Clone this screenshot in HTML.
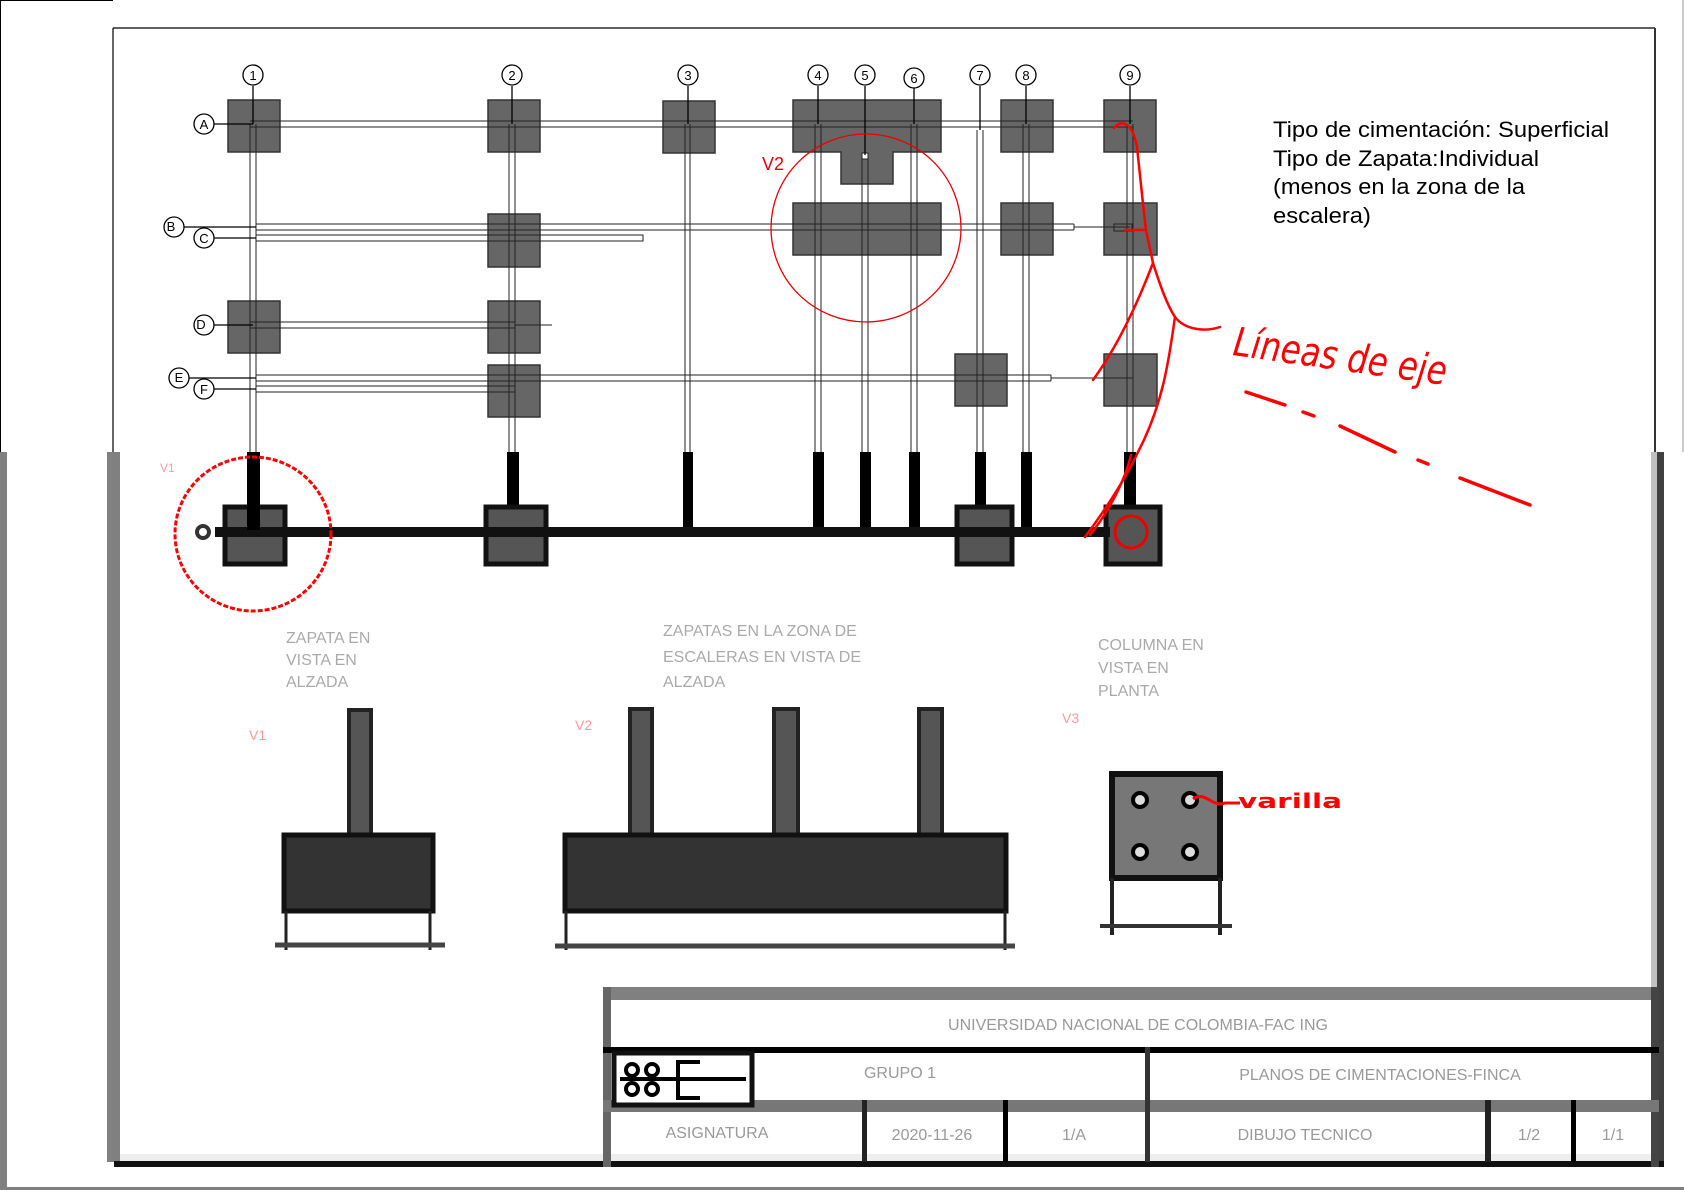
<!DOCTYPE html>
<html><head><meta charset="utf-8"><style>
html,body{margin:0;padding:0;background:#fff;}
svg{display:block;}
</style></head><body>
<svg width="1684" height="1190" viewBox="0 0 1684 1190" xmlns="http://www.w3.org/2000/svg" font-family="Liberation Sans, sans-serif">
<rect width="1684" height="1190" fill="#fff"/>
<line x1="0" y1="0.5" x2="113" y2="0.5" stroke="#000" stroke-width="1"/>
<line x1="0.5" y1="0" x2="0.5" y2="452" stroke="#000" stroke-width="1"/>
<line x1="1683" y1="0" x2="1683" y2="452" stroke="#999" stroke-width="1"/>
<line x1="113" y1="28" x2="1655" y2="28" stroke="#000" stroke-width="1.2"/>
<line x1="113" y1="28" x2="113" y2="452" stroke="#000" stroke-width="1.2"/>
<line x1="1655" y1="28" x2="1655" y2="452" stroke="#333" stroke-width="2"/>
<rect x="0" y="452" width="7" height="738" fill="#808080"/>
<rect x="107" y="452" width="13" height="710" fill="#808080"/>
<rect x="7" y="1187" width="1677" height="3" fill="#808080"/>
<rect x="1651" y="452" width="6" height="715" fill="#c0c0c0"/>
<rect x="1657" y="452" width="7" height="715" fill="#404040"/>
<rect x="120" y="1154" width="1531" height="7" fill="#eee"/>
<rect x="114" y="1161" width="1550" height="6" fill="#111"/>

<g fill="#666" stroke="#333" stroke-width="1.5">
<rect x="228" y="100" width="52" height="52"/>
<rect x="488" y="100" width="52" height="52"/>
<rect x="663" y="101" width="52" height="52"/>
<path d="M793 100 H941 V152 H893 V184 H841 V152 H793 Z"/>
<rect x="1001" y="100" width="52" height="52"/>
<rect x="1104" y="100" width="52" height="52"/>
<rect x="488" y="214" width="52" height="53"/>
<rect x="793" y="203" width="148" height="52"/>
<rect x="1001" y="203" width="52" height="52"/>
<rect x="1104" y="203" width="53" height="52"/>
<rect x="228" y="301" width="52" height="52"/>
<rect x="488" y="301" width="52" height="52"/>
<rect x="488" y="365" width="52" height="52"/>
<rect x="955" y="354" width="52" height="52"/>
<rect x="1104" y="354" width="53" height="52"/>
</g>
<g stroke="#222" stroke-width="1" fill="none">
<path d="M250 124 V452 M256 124 V452"/>
<path d="M509 124 V452 M515 124 V452"/>
<path d="M685 124 V452 M690 124 V452"/>
<path d="M815 124 V452 M821 124 V452"/>
<path d="M862 155 V452 M868 155 V452"/>
<path d="M911 124 V452 M917 124 V452"/>
<path d="M977 130 V452 M983 130 V452"/>
<path d="M1023 124 V452 M1029 124 V452"/>
<path d="M1127 124 V452 M1133 124 V452"/>
<path d="M250 121 H1133 M250 127 H1133"/>
<path d="M256 224 H1074 M256 230 H1074 M1074 224 V230 M1074 227 H1130"/>
<path d="M256 235 H643 V241 H256"/>
<path d="M250 322 H515 V328 H250 M515 325 H552"/>
<path d="M256 375 H1051 M256 381 H1051 M1051 375 V381 M1051 378 H1133"/>
<path d="M256 386 H515 V392 H256"/>
</g>
<rect x="862" y="153" width="6" height="6" fill="#fff" stroke="#222"/>
<rect x="1114" y="224" width="18" height="7" fill="none" stroke="#222"/>
<g stroke="#000" stroke-width="1.3" fill="#fff">
<line x1="253" y1="86" x2="253" y2="124"/><line x1="512" y1="86" x2="512" y2="124"/><line x1="688" y1="86" x2="688" y2="124"/>
<line x1="818" y1="86" x2="818" y2="124"/><line x1="865" y1="86" x2="865" y2="155"/><line x1="914" y1="88" x2="914" y2="124"/>
<line x1="980" y1="86" x2="980" y2="130"/><line x1="1026" y1="86" x2="1026" y2="124"/><line x1="1130" y1="86" x2="1130" y2="124"/>
<line x1="214" y1="124" x2="253" y2="124"/><line x1="184" y1="227" x2="256" y2="227"/><line x1="214" y1="238" x2="256" y2="238"/>
<line x1="214" y1="325" x2="253" y2="325"/><line x1="189" y1="378" x2="256" y2="378"/><line x1="214" y1="389" x2="256" y2="389"/>
<circle cx="253" cy="75" r="10"/><circle cx="512" cy="75" r="10"/><circle cx="688" cy="75" r="10"/>
<circle cx="818" cy="75" r="10"/><circle cx="865" cy="75" r="10"/><circle cx="914" cy="78" r="10"/>
<circle cx="980" cy="75" r="10"/><circle cx="1026" cy="75" r="10"/><circle cx="1130" cy="75" r="10"/>
<circle cx="204" cy="124" r="10"/><circle cx="174" cy="227" r="10"/><circle cx="204" cy="238" r="10"/>
<circle cx="204" cy="325" r="10"/><circle cx="179" cy="378" r="10"/><circle cx="204" cy="389" r="10"/>
</g>
<g font-size="13" text-anchor="middle" fill="#000">
<text x="253" y="80">1</text><text x="512" y="80">2</text><text x="688" y="80">3</text><text x="818" y="80">4</text><text x="865" y="80">5</text><text x="914" y="83">6</text><text x="980" y="80">7</text><text x="1026" y="80">8</text><text x="1130" y="80">9</text>
<text x="204" y="129">A</text><text x="171" y="231">B</text><text x="204" y="243">C</text><text x="201" y="329">D</text><text x="179" y="382">E</text><text x="204" y="394">F</text>
</g>
<ellipse cx="866" cy="228" rx="95" ry="94" fill="none" stroke="#e00" stroke-width="1.3"/>
<text x="762" y="170" font-size="18" fill="#e00">V2</text>
<g font-size="22" fill="#000">
<text x="1273" y="137" textLength="336" lengthAdjust="spacingAndGlyphs">Tipo de cimentación: Superficial</text>
<text x="1273" y="166" textLength="266" lengthAdjust="spacingAndGlyphs">Tipo de Zapata:Individual</text>
<text x="1273" y="194" textLength="252" lengthAdjust="spacingAndGlyphs">(menos en la zona de la</text>
<text x="1273" y="223" textLength="98" lengthAdjust="spacingAndGlyphs">escalera)</text>
</g>

<g fill="#000">
<rect x="247" y="452" width="13" height="80"/><rect x="507" y="452" width="12" height="80"/><rect x="683" y="452" width="10" height="80"/>
<rect x="813" y="452" width="11" height="80"/><rect x="860" y="452" width="11" height="80"/><rect x="909" y="452" width="11" height="80"/>
<rect x="975" y="452" width="11" height="80"/><rect x="1021" y="452" width="11" height="80"/><rect x="1124" y="452" width="12" height="80"/>
</g>
<g fill="#555" stroke="#111" stroke-width="5">
<rect x="225" y="507" width="60" height="57"/><rect x="486" y="507" width="60" height="57"/>
<rect x="957" y="507" width="55" height="57"/><rect x="1106" y="507" width="54" height="57"/>
</g>
<rect x="215" y="527" width="895" height="10" fill="#111"/>
<rect x="247" y="470" width="13" height="60" fill="#000"/>
<circle cx="203" cy="532" r="6" fill="none" stroke="#333" stroke-width="4"/>
<ellipse cx="253" cy="534" rx="78" ry="77" fill="none" stroke="#f00" stroke-width="3" stroke-dasharray="5 2"/>
<text x="160" y="472" font-size="12" fill="#f99">V1</text>
<circle cx="1131" cy="532" r="16" fill="none" stroke="#e00" stroke-width="3"/>

<g fill="none" stroke="#f00" stroke-width="2.5" stroke-linecap="round">
<path d="M1114 128 C1120 120 1132 120 1137 147 C1140 175 1143 205 1146 230 L1153 263"/>
<path d="M1125 230 H1146"/>
<path d="M1153 263 C1135 310 1115 350 1093 380"/>
<path d="M1153 263 C1160 285 1167 305 1175 317 C1185 330 1205 332 1220 327"/>
<path d="M1175 317 C1170 350 1165 400 1139 450 C1125 480 1105 510 1085 537"/>
<path d="M1131 455 C1125 480 1110 510 1090 535"/>
<path d="M1246 392 L1285 405 M1303 412 L1314 416 M1340 426 L1395 452 M1418 460 L1428 464 M1460 478 L1530 505" stroke-width="3.5"/>
</g>
<text x="1232" y="355" font-size="40" fill="#f00" font-family="DejaVu Sans, sans-serif" font-style="italic" transform="rotate(8 1232 355)" textLength="215" lengthAdjust="spacingAndGlyphs">Líneas de eje</text>

<g font-size="16" fill="#aaa">
<text x="286" y="643">ZAPATA EN</text><text x="286" y="665">VISTA EN</text><text x="286" y="687">ALZADA</text>
<text x="663" y="636">ZAPATAS EN LA ZONA DE</text><text x="663" y="662">ESCALERAS EN VISTA DE</text><text x="663" y="687">ALZADA</text>
<text x="1098" y="650">COLUMNA EN</text><text x="1098" y="673">VISTA EN</text><text x="1098" y="696">PLANTA</text>
</g>
<g font-size="14" fill="#f99"><text x="249" y="740">V1</text><text x="575" y="730">V2</text><text x="1062" y="723">V3</text></g>

<rect x="349" y="710" width="22" height="126" fill="#555" stroke="#222" stroke-width="4"/>
<rect x="284" y="835" width="149" height="76" fill="#333" stroke="#111" stroke-width="5"/>
<g stroke="#222" stroke-width="3"><line x1="286" y1="911" x2="286" y2="950"/><line x1="430" y1="911" x2="430" y2="950"/></g>
<line x1="275" y1="945" x2="445" y2="945" stroke="#444" stroke-width="5"/>
<g fill="#555" stroke="#222" stroke-width="4">
<rect x="630" y="709" width="22" height="126"/><rect x="774" y="709" width="24" height="126"/><rect x="919" y="709" width="23" height="126"/>
</g>
<rect x="565" y="835" width="441" height="76" fill="#333" stroke="#111" stroke-width="5"/>
<g stroke="#222" stroke-width="3"><line x1="566" y1="911" x2="566" y2="950"/><line x1="1005" y1="911" x2="1005" y2="950"/></g>
<line x1="555" y1="946" x2="1015" y2="946" stroke="#444" stroke-width="5"/>
<rect x="1112" y="774" width="108" height="104" fill="#777" stroke="#111" stroke-width="6"/>
<g fill="#ddd" stroke="#000" stroke-width="4">
<circle cx="1140" cy="800" r="7"/><circle cx="1190" cy="800" r="7"/><circle cx="1140" cy="852" r="7"/><circle cx="1190" cy="852" r="7"/>
</g>
<g stroke="#222" stroke-width="4"><line x1="1112" y1="878" x2="1112" y2="935"/><line x1="1220" y1="878" x2="1220" y2="935"/></g>
<line x1="1100" y1="926" x2="1232" y2="926" stroke="#333" stroke-width="4"/>
<path d="M1193 799 C1205 790 1212 808 1225 803 L1240 803" fill="none" stroke="#f00" stroke-width="3"/>
<text x="1238" y="808" font-size="20" font-weight="bold" fill="#f00" font-family="DejaVu Sans, sans-serif" textLength="104" lengthAdjust="spacingAndGlyphs">varilla</text>

<rect x="603" y="987" width="1056" height="13" fill="#808080"/>
<rect x="603" y="987" width="8" height="180" fill="#666"/>
<rect x="1651" y="987" width="8" height="180" fill="#444"/>
<rect x="603" y="1047" width="1056" height="6" fill="#000"/>
<rect x="603" y="1100" width="1056" height="12" fill="#777"/>
<rect x="1145" y="1047" width="5" height="115" fill="#333"/>
<rect x="862" y="1100" width="5" height="62" fill="#222"/>
<rect x="1003" y="1100" width="5" height="62" fill="#000"/>
<rect x="1485" y="1100" width="6" height="62" fill="#222"/>
<rect x="1571" y="1100" width="5" height="62" fill="#000"/>
<rect x="614" y="1053" width="138" height="52" fill="#fff" stroke="#111" stroke-width="5"/>
<g stroke="#000" stroke-width="4" fill="none">
<line x1="620" y1="1079" x2="746" y2="1079"/>
<circle cx="632" cy="1070" r="6"/><circle cx="632" cy="1089" r="6"/><circle cx="652" cy="1070" r="6"/><circle cx="652" cy="1089" r="6"/>
<path d="M700 1062 H678 V1098 H700"/>
</g>
<g font-size="16" fill="#999" text-anchor="middle">
<text x="1138" y="1030">UNIVERSIDAD NACIONAL DE COLOMBIA-FAC ING</text>
<text x="900" y="1078">GRUPO 1</text>
<text x="1380" y="1080">PLANOS DE CIMENTACIONES-FINCA</text>
<text x="717" y="1138">ASIGNATURA</text>
<text x="932" y="1140">2020-11-26</text>
<text x="1074" y="1140">1/A</text>
<text x="1305" y="1140">DIBUJO TECNICO</text>
<text x="1529" y="1140">1/2</text>
<text x="1613" y="1140">1/1</text>
</g>
</svg>
</body></html>
